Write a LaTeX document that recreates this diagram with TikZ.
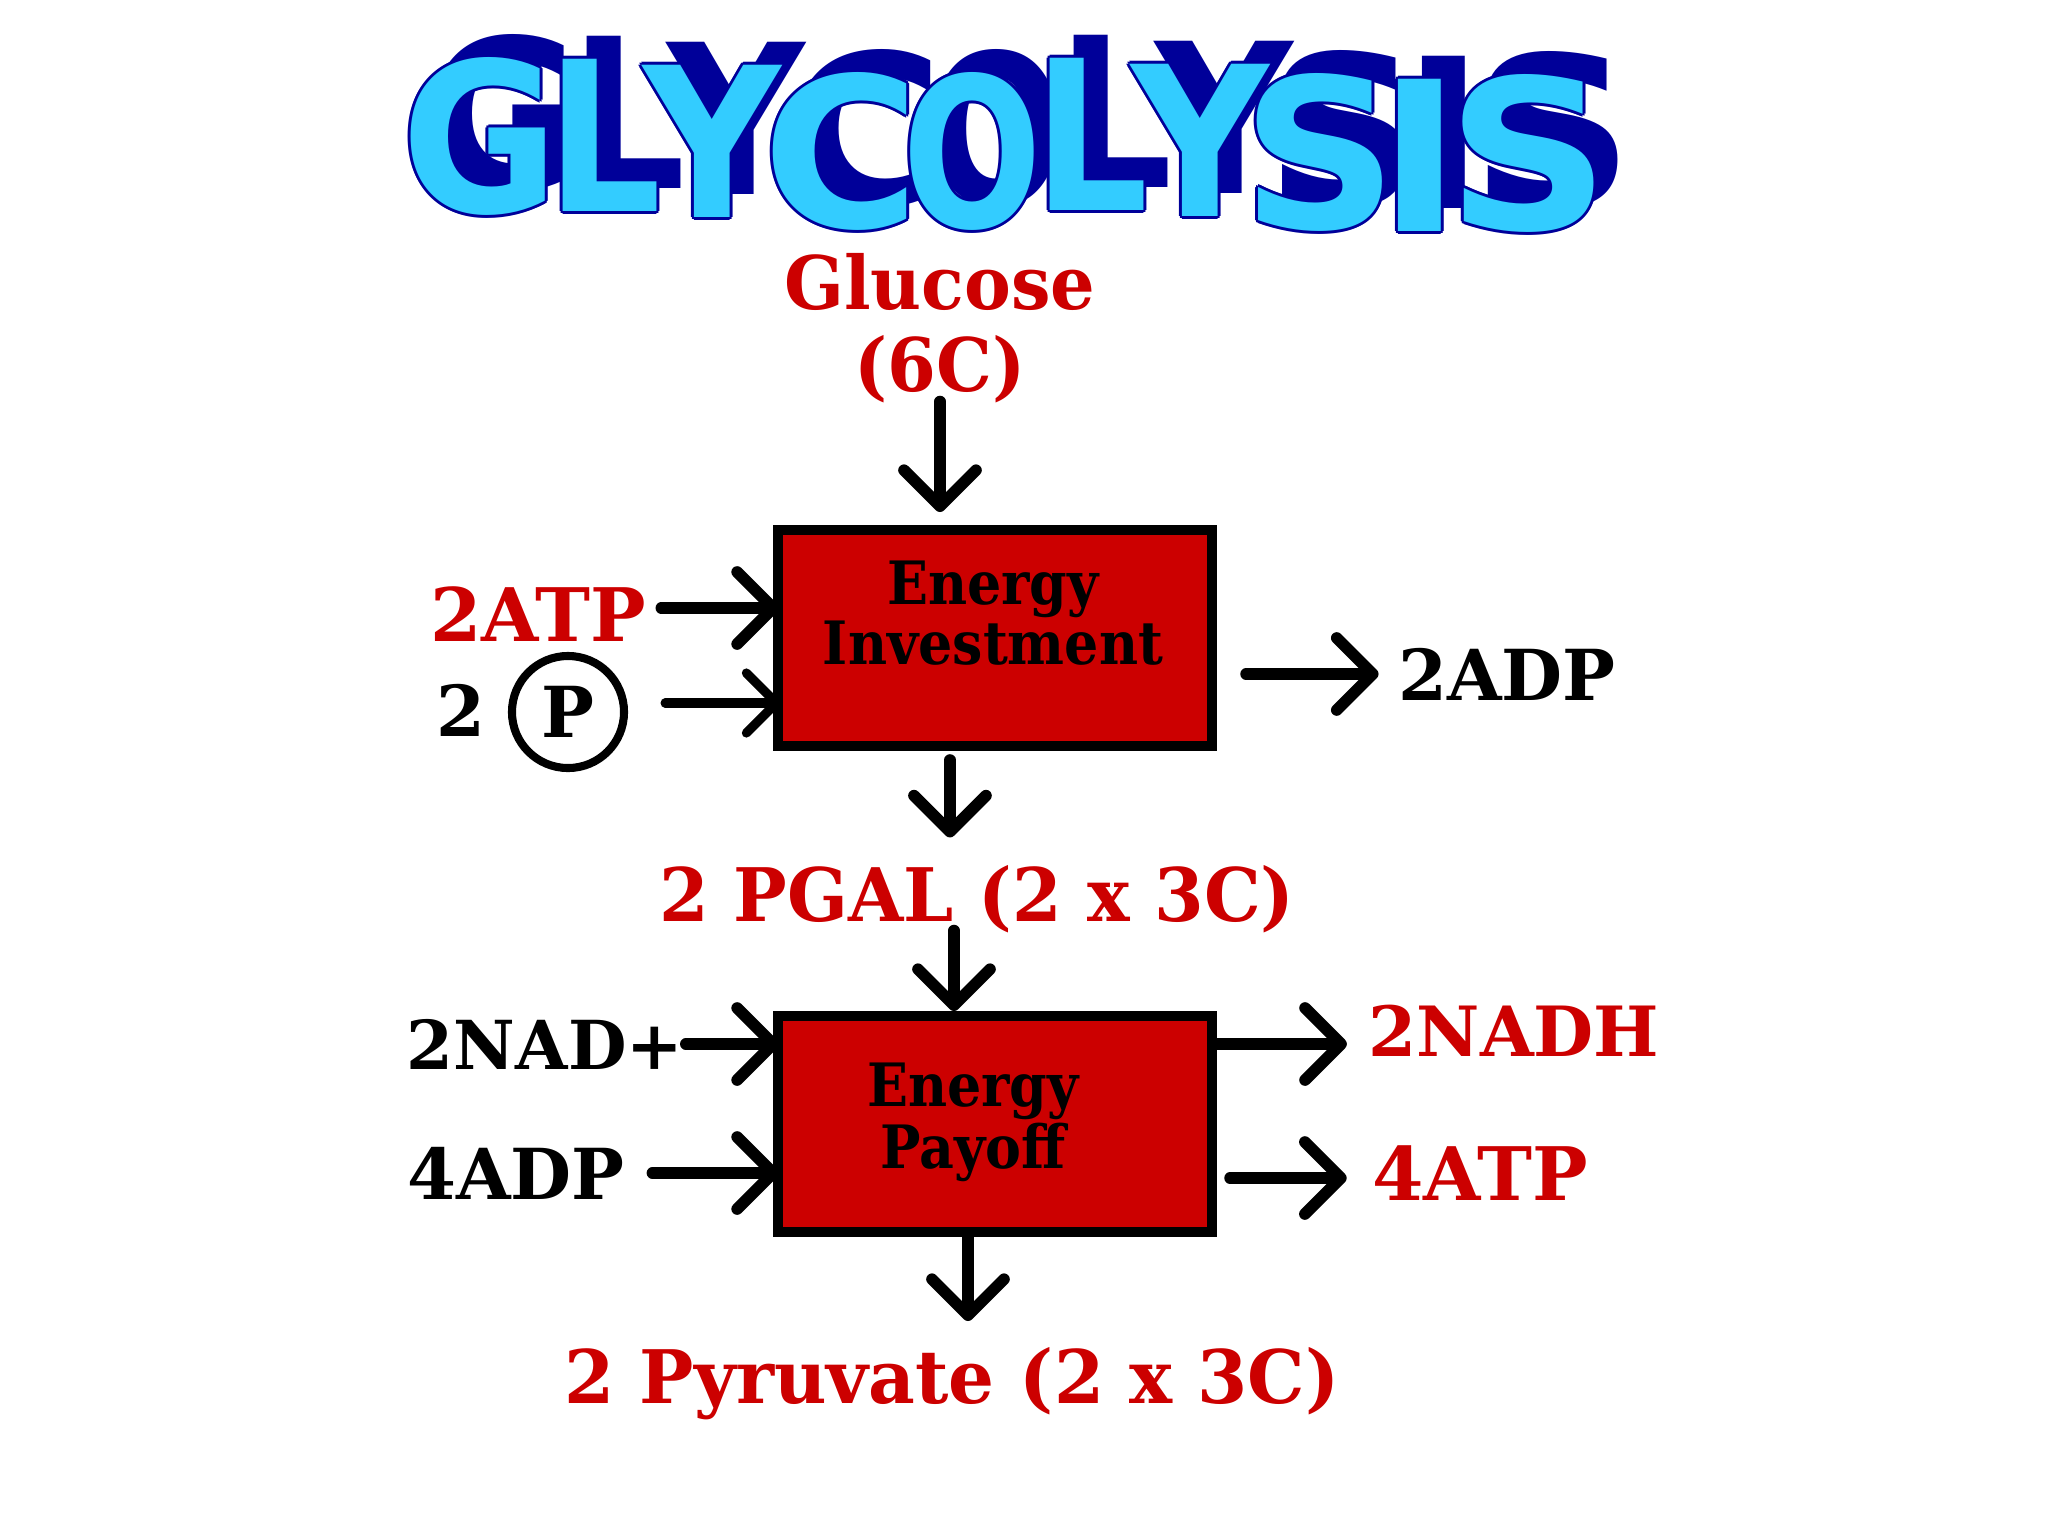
\documentclass[tikz,border=0pt]{standalone}
\usepackage{fontspec}
\setmainfont{DejaVu Serif}
\newfontfamily\titlefont{DejaVu Sans}
\usepackage{tikz}
\usetikzlibrary{arrows.meta,positioning}

\definecolor{glyred}{RGB}{204,0,0}
\definecolor{titlecyan}{RGB}{51,204,255}
\definecolor{titlenavy}{RGB}{0,0,153}

% letter / x / y / horizontal stretch
\def\titleletters{G/480/136/1.52, L/604/135/1.43, Y/712/141/1.5, C/841/151/1.7, O/972/151/1.3, L/1091/134/1.43, Y/1200/140/1.5, S/1320/152/1.72, I/1420/155/1.8, S/1529/153/1.8}

\begin{document}
\begin{tikzpicture}[
    x=0.01cm, y=-0.01cm,
    stage/.style={rectangle, draw=black, line width=2.8pt, fill=glyred, minimum width=4.34cm, minimum height=2.16cm},
    stagetext/.style={align=center, inner sep=0pt, font=\bfseries\fontsize{17}{15.5}\selectfont\addfontfeature{FakeStretch=0.9}},
    molecule/.style={text=glyred, align=center, inner sep=2pt, font=\bfseries\fontsize{21}{23.3}\selectfont\addfontfeature{FakeStretch=#1}},
    molecule/.default=1,
    cofactor/.style={inner sep=2pt, font=\bfseries\fontsize{#1}{22}\selectfont},
    cofactor/.default=20,
    flow/.style={-{Straight Barb[length=0.36cm,width=0.72cm,round]}, line width=3.3pt, line cap=round},
    thinflow/.style={-{Straight Barb[length=0.3cm,width=0.6cm,round]}, line width=2.6pt, line cap=round},
    letter/.style={inner sep=0pt, font=\titlefont\bfseries\fontsize{36}{36}\selectfont}
]
\useasboundingbox (0,0) rectangle (2048,1536);

% title: shadow, rim, face
\foreach \ch/\px/\py/\xs [count=\i] in \titleletters
    \node[letter, text=titlenavy] (shadow-\i) at (\px+24,\py-23) {\scalebox{\xs}[1.65]{\ch}};
\foreach \ch/\px/\py/\xs [count=\i] in \titleletters
    \foreach \dx/\dy [count=\k] in {3/0, -3/0, 0/3, 0/-3, 2/2, -2/2, 2/-2, -2/-2}
        \node[letter, text=titlenavy] (rim-\i-\k) at (\px+\dx,\py+\dy) {\scalebox{\xs}[1.65]{\ch}};
\foreach \ch/\px/\py/\xs [count=\i] in \titleletters
    \node[letter, text=titlecyan] (letter-\i) at (\px,\py) {\scalebox{\xs}[1.65]{\ch}};

% energy investment
\node[molecule=0.95] (glucose) at (940,328) {Glucose\\(6C)};
\node[stage] (invest) at (995,638) {};
\node[stagetext] (investtxt) at (993,613) {Energy\\Investment};
\node[molecule] (atpin) at (538,614) {2ATP};
\node[cofactor] (two) at (461,710) {2};
\node[circle, draw, line width=2.3pt, minimum size=1.12cm, inner sep=0pt, font=\bfseries\fontsize{20}{22}\selectfont] (phos) at (568,712) {P};
\node[cofactor] (adpout) at (1507,674) {2ADP};
\node[molecule=0.966] (pgal) at (977,899) {2 PGAL (2 x 3C)};

\draw[flow, shorten <=-0.09cm, shorten >=0.13cm] (glucose.south) -- (glucose.south |- invest.north);
\draw[flow, shorten <=0.08cm, shorten >=-0.06cm] ([yshift=0.06cm]atpin.east) -- ([yshift=0.06cm]atpin.east -| invest.west);
\draw[thinflow, shorten <=0.37cm, shorten >=-0.08cm] ([yshift=0.09cm]phos.east) -- ([yshift=0.09cm]phos.east -| invest.west);
\draw[flow, shorten <=0.29cm, shorten >=0.12cm] (invest.east |- adpout.west) -- (adpout.west);
\draw[flow, shorten <=0.09cm, shorten >=0.2cm] ([xshift=-0.45cm]invest.south) -- ([xshift=-0.45cm]invest.south |- pgal.north);

% energy payoff
\node[stage] (payoff) at (995,1124) {};
\node[stagetext] (payofftxt) at (973,1122) {Energy\\Payoff};
\node[cofactor=19.2] (nadin) at (545,1044) {2NAD+};
\node[cofactor] (adpin) at (516,1173) {4ADP};
\node[molecule, font=\bfseries\fontsize{19.7}{22}\selectfont] (nadh) at (1514,1031) {2NADH};
\node[molecule] (atpout) at (1480,1173) {4ATP};
\node[molecule=0.978] (pyruvate) at (952,1384) {2 Pyruvate (2 x 3C)};

\draw[flow, shorten <=-0.1cm] ([xshift=-0.23cm]pgal.south) -- ([xshift=-0.23cm]pgal.south |- payoff.north);
\draw[flow, shorten <=-0.05cm, shorten >=-0.06cm] (nadin.east) -- (nadin.east -| payoff.west);
\draw[flow, shorten <=0.2cm, shorten >=-0.06cm] (adpin.east) -- (adpin.east -| payoff.west);
\draw[flow, shorten >=0.14cm] (payoff.east |- nadin.east) -- (nadh.west |- nadin.east);
\draw[flow, shorten <=0.13cm, shorten >=0.18cm] ([yshift=-0.05cm]payoff.east |- atpout.west) -- ([yshift=-0.05cm]atpout.west);
\draw[flow, shorten >=0.19cm] ([xshift=-0.27cm]payoff.south) -- ([xshift=-0.27cm]payoff.south |- pyruvate.north);

\end{tikzpicture}
\end{document}
